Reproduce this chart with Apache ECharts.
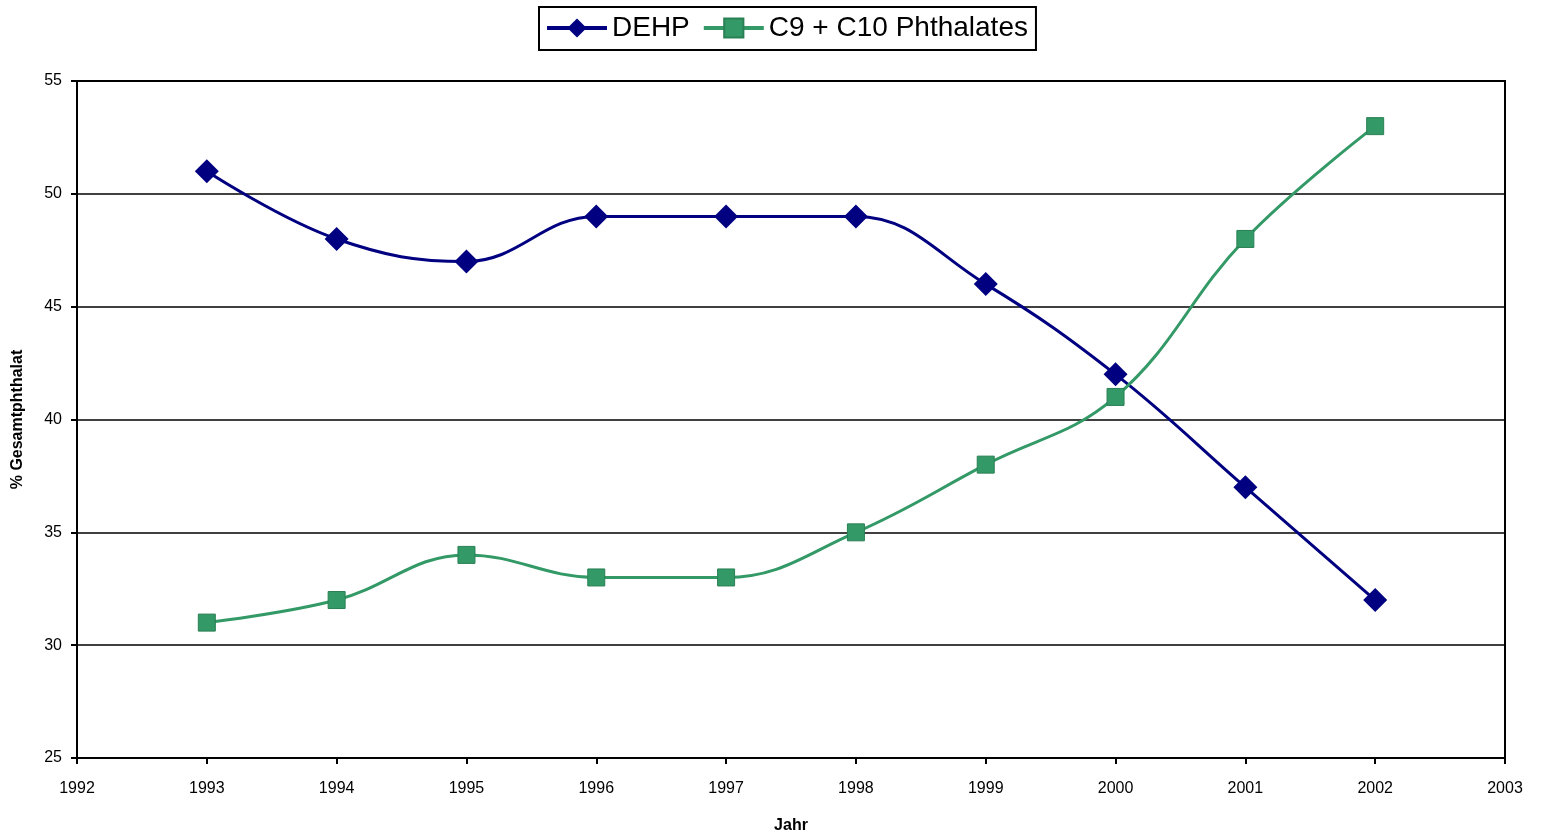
<!DOCTYPE html>
<html>
<head>
    <meta charset="utf-8">
    <title>DEHP / C9 + C10 Phthalates</title>
    <script src="https://cdn.jsdelivr.net/npm/echarts@6/dist/echarts.min.js"></script>
    <style>
        html, body { margin: 0; padding: 0; background: #fff; }
        #chartmain { width: 1541px; height: 837px; }
    </style>
</head>
<body>
<div id="chartmain"></div>
<script type="text/javascript">
    // Jahre
    var years = [1993, 1994, 1995, 1996, 1997, 1998, 1999, 2000, 2001, 2002];
    // % Gesamtphthalat
    var dehp = [51, 48, 47, 49, 49, 49, 46, 42, 37, 32];
    var c9c10 = [31, 32, 34, 33, 33, 35, 38, 41, 48, 53];

    function pairs(vals) {
        return years.map(function (y, i) { return [y, vals[i]]; });
    }

    var myChart = echarts.init(document.getElementById('chartmain'));
    myChart.setOption({
        animation: false,
        textStyle: { fontFamily: 'Liberation Sans, Arial, sans-serif' },
        legend: {
            top: 7,
            left: 539,
            padding: [7, 8, 8, 6],
            borderColor: '#000',
            borderWidth: 2,
            itemWidth: 60,
            itemHeight: 24,
            itemGap: 12,
            lineStyle: { width: 4 },
            textStyle: { fontSize: 28, color: '#000' },
            data: ['DEHP', 'C9 + C10 Phthalates']
        },
        grid: {
            left: 77, right: 36, top: 81, bottom: 79,
            outerBoundsMode: 'none',
            show: true, borderColor: '#000', borderWidth: 2
        },
        xAxis: {
            type: 'value',
            min: 1992, max: 2003, interval: 1,
            name: 'Jahr', nameLocation: 'middle', nameGap: 60,
            nameTextStyle: { fontWeight: 'bold', fontSize: 16, color: '#000' },
            axisLine: { lineStyle: { color: '#000', width: 2 } },
            axisTick: { lineStyle: { color: '#000', width: 2 }, length: 6 },
            axisLabel: { color: '#000', fontSize: 16, margin: 23, formatter: function (v) { return String(v); } },
            splitLine: { show: false }
        },
        yAxis: {
            type: 'value',
            min: 25, max: 55, interval: 5,
            name: '% Gesamtphthalat', nameLocation: 'middle', nameGap: 51,
            nameTextStyle: { fontWeight: 'bold', fontSize: 16, color: '#000' },
            axisLine: { show: true, lineStyle: { color: '#000', width: 2 } },
            axisTick: { show: true, lineStyle: { color: '#000', width: 2 }, length: 6 },
            axisLabel: { color: '#000', fontSize: 16, margin: 15 },
            splitLine: { lineStyle: { color: '#000', width: 1.5 } }
        },
        series: [{
            name: 'DEHP',
            type: 'line',
            smooth: 0.4,
            data: pairs(dehp),
            symbol: 'diamond',
            symbolSize: 24,
            itemStyle: { color: '#000080' },
            lineStyle: { color: '#000080', width: 3 }
        }, {
            name: 'C9 + C10 Phthalates',
            type: 'line',
            smooth: 0.4,
            data: pairs(c9c10),
            symbol: 'rect',
            symbolSize: 17,
            itemStyle: { color: '#339966', borderColor: '#2a8055', borderWidth: 1 },
            lineStyle: { color: '#339966', width: 3 }
        }]
    });
</script>
</body>
</html>
